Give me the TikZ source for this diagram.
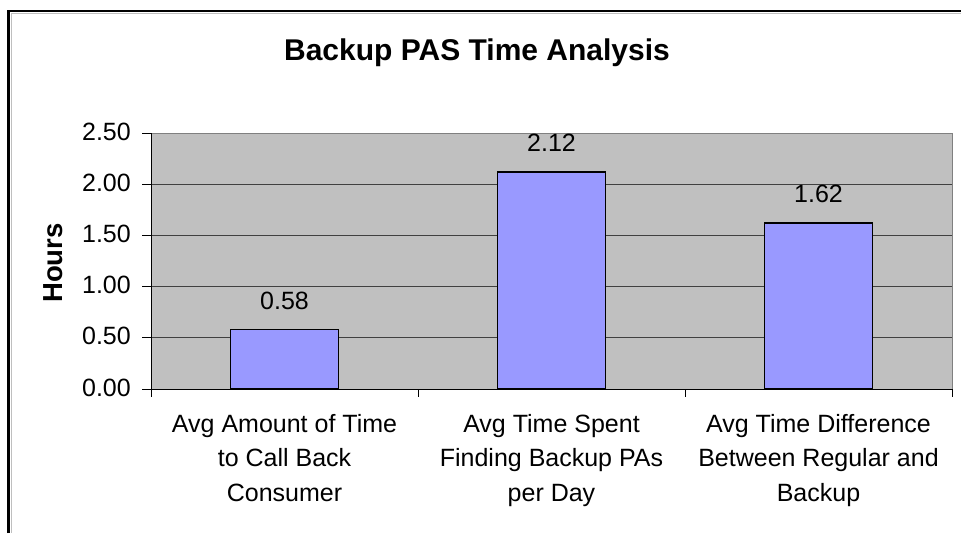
\documentclass[tikz,border=0pt]{standalone}
\usepackage{fontspec}
\setmainfont{Liberation Sans}
\definecolor{plotgray}{HTML}{C0C0C0}
\definecolor{barblue}{HTML}{9999FF}
\definecolor{gridc}{HTML}{404040}
\definecolor{bordc}{HTML}{808080}
\tikzset{
  bar/.style={fill=barblue, draw=black, line width=1.5pt},
  gridline/.style={draw=gridc, line width=1pt},
  axisline/.style={draw=black, line width=1pt},
  ticklabel/.style={inner sep=0pt, anchor=base east, font=\fontsize{25}{30}\selectfont},
  vallabel/.style={inner sep=0pt, anchor=base, font=\fontsize{25}{30}\selectfont},
  catlabel/.style={inner sep=0pt, anchor=north, align=center, font=\fontsize{25}{34.5}\selectfont},
}
\begin{document}
\begin{tikzpicture}[x=1pt,y=-1pt]
\useasboundingbox (0,0) rectangle (961,533);
% outer frame
\draw[black!25, line width=1pt] (11.5,533) -- (11.5,13.8) -- (961,13.8);
\draw[black, line width=2.5pt] (8.5,533) -- (8.5,11) -- (961,11);
% plot area
\fill[plotgray] (151,133) rectangle (952,389);
\foreach \yy in {337.8,286.6,235.4,184.2} {
  \draw[gridline] (151,\yy) -- (952,\yy);
}
\draw[bordc, line width=1pt] (151,133) -- (952,133) -- (952,389);
% title and axis title
\node[inner sep=0pt, anchor=base, font=\fontsize{30}{36}\selectfont\bfseries] (title) at (477,60) {Backup PAS Time Analysis};
\node[inner sep=0pt, anchor=base, rotate=90, font=\fontsize{27.5}{33}\selectfont\bfseries] (ytitle) at (62,263) {Hours};
% y tick labels
\node[ticklabel] (y0) at (131,396) {0.00};
\node[ticklabel] (y1) at (131,344.8) {0.50};
\node[ticklabel] (y2) at (131,293.6) {1.00};
\node[ticklabel] (y3) at (131,242.4) {1.50};
\node[ticklabel] (y4) at (131,191.2) {2.00};
\node[ticklabel] (y5) at (131,140) {2.50};
% bars
\draw[bar] (230.5,389) rectangle (338.5,329.6);
\draw[bar] (497.5,389) rectangle (605.5,171.9);
\draw[bar] (764.5,389) rectangle (872.5,223.1);
% value labels
\node[vallabel] (v1) at (284.5,309.5) {0.58};
\node[vallabel] (v2) at (551.5,151.5) {2.12};
\node[vallabel] (v3) at (818.5,202.5) {1.62};
% axes
\draw[axisline] (151,133) -- (151,397);
\draw[axisline] (142,389) -- (952,389);
\foreach \yy in {133,184.2,235.4,286.6,337.8} {
  \draw[axisline] (142,\yy) -- (151,\yy);
}
\foreach \xx in {418,685,952} {
  \draw[axisline] (\xx,389) -- (\xx,397);
}
% category labels
\node[catlabel] (c1) at (284.5,414) {Avg Amount of Time\\to Call Back\\Consumer};
\node[catlabel] (c2) at (551.5,414) {Avg Time Spent\\Finding Backup PAs\\per Day};
\node[catlabel] (c3) at (818.5,414) {Avg Time Difference\\Between Regular and\\Backup};
\end{tikzpicture}
\end{document}
